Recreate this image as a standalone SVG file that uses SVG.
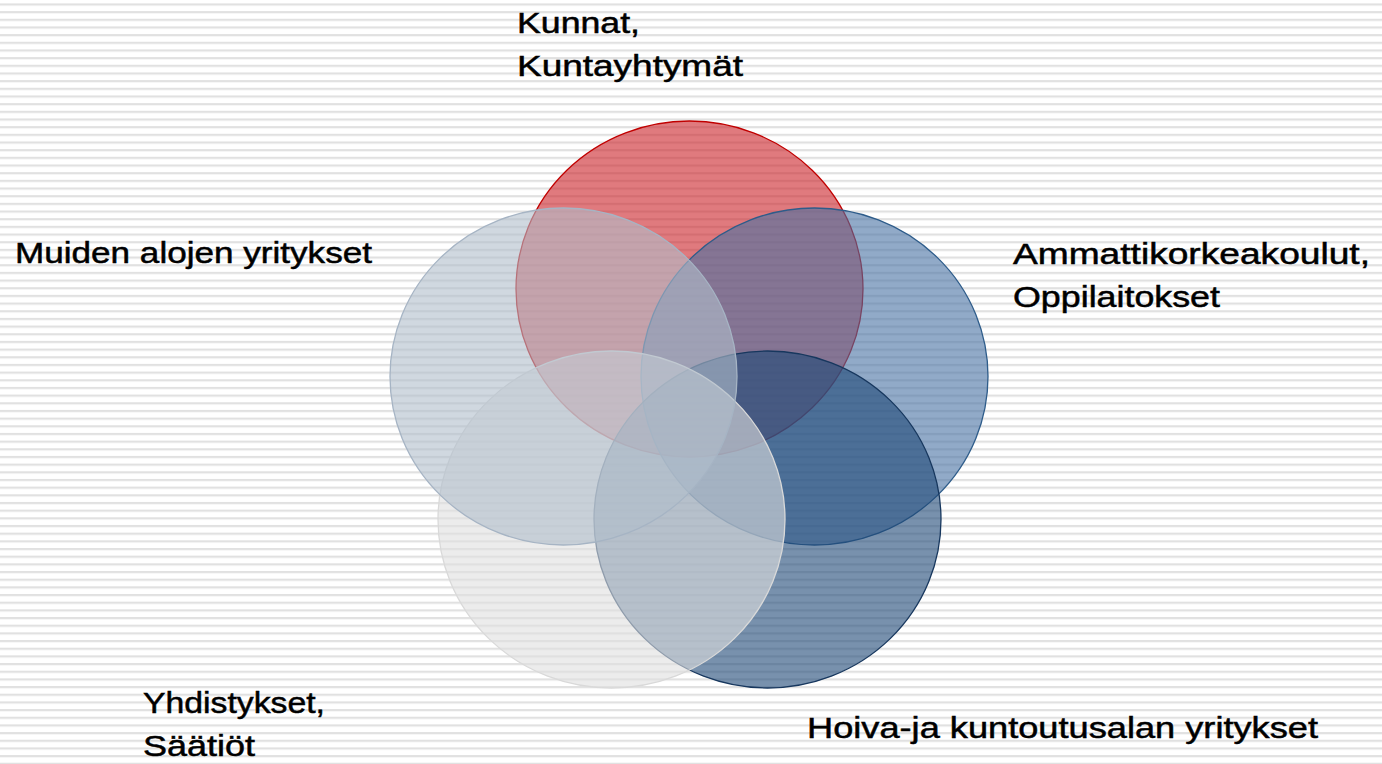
<svg xmlns="http://www.w3.org/2000/svg" width="1382" height="764" viewBox="0 0 1382 764">
<defs>
<pattern id="stripes" patternUnits="userSpaceOnUse" x="0" y="3.4" width="20" height="7.67">
<rect x="0" y="0" width="20" height="7.67" fill="#ffffff"/>
<rect x="0" y="0" width="20" height="2.2" fill="#e1e1e1"/>
</pattern>
</defs>
<style>
.lbl{font-family:"Liberation Sans",Arial,sans-serif;font-size:30px;fill:#000000;stroke:#000000;stroke-width:0.5;}
.c{fill-opacity:0.6;stroke-width:1.3;}
</style>
<rect x="0" y="0" width="1382" height="764" fill="url(#stripes)"/>
<g id="circle-kunnat"><ellipse class="c" cx="689.5" cy="289" rx="173.5" ry="168" fill="#CB2128" stroke="#C00000"/></g>
<g id="circle-ammatti"><ellipse class="c" cx="814.5" cy="376.5" rx="173.5" ry="168.5" fill="#4871A3" stroke="#2E5C8A"/></g>
<g id="circle-hoiva"><ellipse class="c" cx="767.5" cy="519.5" rx="173.5" ry="168.5" fill="#1E4877" stroke="#17375E"/></g>
<g id="circle-yhdistykset"><ellipse class="c" cx="611.5" cy="519.5" rx="173.5" ry="168.5" fill="#DFDFDF" stroke="#D9D9D9"/></g>
<g id="circle-muiden"><ellipse class="c" cx="563.5" cy="376.5" rx="173.5" ry="168.5" fill="#B1BECB" stroke="#A6B4C4"/></g>
<g id="labels">
<g id="label-kunnat">
<text class="lbl" x="517" y="33" textLength="123" lengthAdjust="spacingAndGlyphs">Kunnat,</text>
<text class="lbl" x="517" y="76" textLength="226" lengthAdjust="spacingAndGlyphs">Kuntayhtymät</text>
</g>
<g id="label-muiden">
<text class="lbl" x="15" y="263" textLength="357" lengthAdjust="spacingAndGlyphs">Muiden alojen yritykset</text>
</g>
<g id="label-ammatti">
<text class="lbl" x="1013" y="264" textLength="357" lengthAdjust="spacingAndGlyphs">Ammattikorkeakoulut,</text>
<text class="lbl" x="1013" y="307" textLength="207" lengthAdjust="spacingAndGlyphs">Oppilaitokset</text>
</g>
<g id="label-hoiva">
<text class="lbl" x="807" y="738" textLength="511" lengthAdjust="spacingAndGlyphs">Hoiva-ja kuntoutusalan yritykset</text>
</g>
<g id="label-yhdistykset">
<text class="lbl" x="143" y="713" textLength="182" lengthAdjust="spacingAndGlyphs">Yhdistykset,</text>
<text class="lbl" x="143" y="756" textLength="112" lengthAdjust="spacingAndGlyphs">Säätiöt</text>
</g>
</g>
</svg>
